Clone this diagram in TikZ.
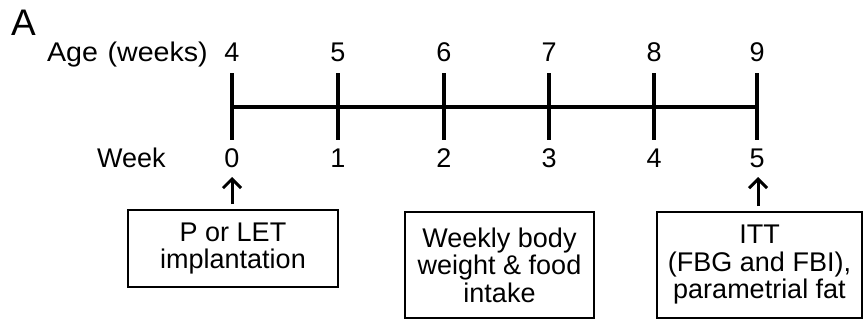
\documentclass[tikz,border=0pt]{standalone}
\usepackage{fontspec}
\setmainfont{Liberation Sans}
\usetikzlibrary{arrows.meta}
\begin{document}
\begin{tikzpicture}[x=1pt,y=-1pt,
  lbl/.style={font=\fontsize{27}{27.5}\selectfont, inner sep=0pt, anchor=base},
  tline/.style={line width=3.2pt},
  infobox/.style={draw, line width=1.8pt, font=\fontsize{27}{27.5}\selectfont, align=center, inner sep=0pt},
  uparr/.style={line width=3pt, -{Straight Barb[length=9pt,width=18pt,line width=3pt]}}
]
\useasboundingbox (0,0) rectangle (864,324);
\node[font=\fontsize{37}{40}\selectfont, inner sep=0pt, anchor=base west] (panel) at (11,35) {A};
% timeline coordinates
\foreach \i/\x in {0/232,1/338,2/444,3/549,4/654,5/757}{
  \coordinate (t\i) at (\x,107);
  \coordinate (tt\i) at (\x,73);
  \coordinate (tb\i) at (\x,140);
}
\draw[tline] (t0) -- (t5);
\foreach \i in {0,...,5}{ \draw[tline] (tt\i) -- (tb\i); }
% labels
\node[lbl, anchor=base east, xscale=1.06] (agelbl) at (208,61.5) {Age\hspace{9pt}(weeks)};
\node[lbl, anchor=base west] (weeklbl) at (97,167) {Week};
\foreach \i/\a/\w in {0/4/0,1/5/1,2/6/2,3/7/3,4/8/4,5/9/5}{
  \node[lbl] (age\i) at ([yshift=45.5pt]t\i) {\a};
  \node[lbl] (wk\i) at ([yshift=-60pt]t\i) {\w};
}
% boxes
\node[infobox, minimum width=210pt, minimum height=77pt] (b1) at (233,248.5) {P or LET\\implantation};
\node[infobox, minimum width=189pt, minimum height=106pt] (b2) at (499.5,265) {Weekly body\\weight \& food\\intake};
\node[infobox, minimum width=205pt, minimum height=106pt] (b3) at (759.5,265) {ITT\\(FBG and FBI),\\parametrial fat};
\coordinate (a1) at (232,177);
\coordinate (a3) at (758,177);
\draw[uparr] ([yshift=5pt]b1.north -| a1) -- (a1);
\draw[uparr] ([yshift=5pt]b3.north -| a3) -- (a3);
\end{tikzpicture}
\end{document}
